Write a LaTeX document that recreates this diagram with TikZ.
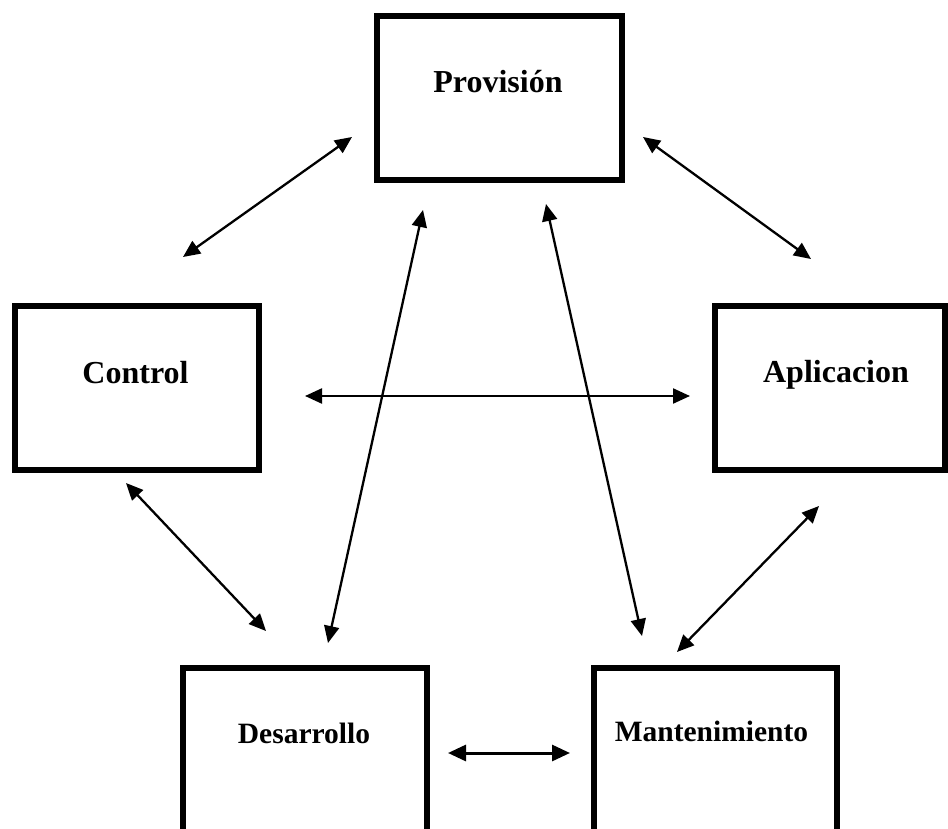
\documentclass[tikz,border=0pt]{standalone}
\usepackage{fontspec}
\setmainfont{Liberation Serif}
\usetikzlibrary{arrows.meta}

\tikzset{
  block/.style={draw=black, line width=6pt, rectangle, inner sep=0pt},
  bigtitle/.style={font=\fontsize{32}{38}\selectfont\bfseries, anchor=base, inner sep=0pt},
  smalltitle/.style={font=\fontsize{29.5}{35}\selectfont\bfseries, anchor=base, inner sep=0pt},
  link/.style={line width=2.3pt, {Triangle[length=17pt,width=15pt]}-{Triangle[length=17pt,width=15pt]}},
  thicklink/.style={line width=3pt, {Triangle[length=18pt,width=16pt]}-{Triangle[length=18pt,width=16pt]}}
}

\begin{document}
\begin{tikzpicture}[x=1pt, y=-1pt]
  \useasboundingbox (0,0) rectangle (948,829);
  \clip (0,0) rectangle (948,829);

  % boxes
  \node[block, minimum width=245pt, minimum height=164pt] (prov) at (499.5,98) {};
  \node[block, minimum width=244pt, minimum height=164pt] (ctrl) at (137,388) {};
  \node[block, minimum width=230pt, minimum height=164pt] (apl)  at (830,388) {};
  \node[block, minimum width=244pt, minimum height=220pt] (des)  at (305,778) {};
  \node[block, minimum width=243pt, minimum height=220pt] (mant) at (715.5,778) {};

  % titles
  \node[bigtitle]   (provT) at (498,93)    {Provisión};
  \node[bigtitle]   (ctrlT) at (135.5,383) {Control};
  \node[bigtitle]   (aplT)  at (836,382)   {Aplicacion};
  \node[smalltitle] (desT)  at (304,743)   {Desarrollo};
  \node[smalltitle] (mantT) at (711.5,741) {Mantenimiento};

  % arrow end points
  \coordinate (pc1) at (352,137);  \coordinate (pc2) at (183,257);
  \coordinate (pa1) at (643,137);  \coordinate (pa2) at (811,259);
  \coordinate (ca1) at (305,396);  \coordinate (ca2) at (690,396);
  \coordinate (cd1) at (126,483);  \coordinate (cd2) at (266,631);
  \coordinate (pd1) at (423,210);  \coordinate (pd2) at (328,643);
  \coordinate (pm1) at (546,204);  \coordinate (pm2) at (642,636);
  \coordinate (am1) at (819,506);  \coordinate (am2) at (677,652);
  \coordinate (dm1) at (448,753);  \coordinate (dm2) at (570,753);

  % connectors
  \draw[link] (pc1) -- (pc2);
  \draw[link] (pa1) -- (pa2);
  \draw[link] (ca1) -- (ca2);
  \draw[link] (cd1) -- (cd2);
  \draw[link] (pd1) -- (pd2);
  \draw[link] (pm1) -- (pm2);
  \draw[link] (am1) -- (am2);
  \draw[thicklink] (dm1) -- (dm2);
\end{tikzpicture}
\end{document}
